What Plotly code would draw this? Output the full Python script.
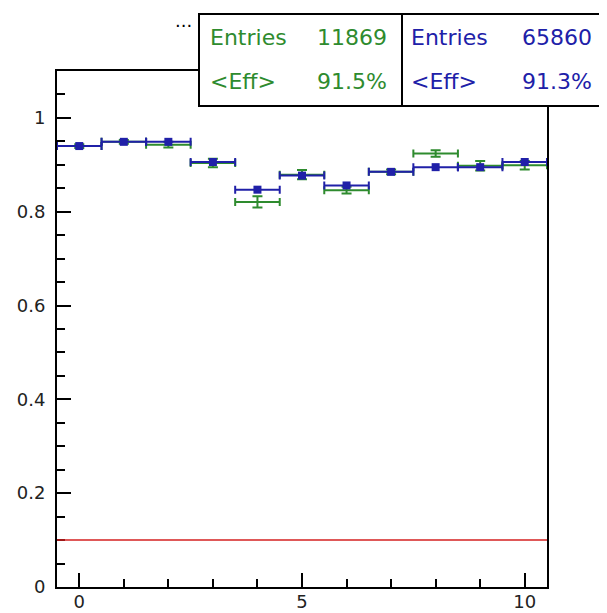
import plotly.graph_objects as go

# efficiency per bin, two samples
bins = [0, 1, 2, 3, 4, 5, 6, 7, 8, 9, 10]
bin_half_width = [0.5, 0.5, 0.5, 0.5, 0.5, 0.5, 0.5, 0.5, 0.5, 0.5, 0.5]

eff_green = [0.940, 0.949, 0.943, 0.904, 0.821, 0.879, 0.846, 0.885, 0.924, 0.898, 0.899]
err_green = [0.004, 0.004, 0.006, 0.009, 0.012, 0.010, 0.007, 0.005, 0.007, 0.010, 0.009]

eff_blue = [0.940, 0.949, 0.949, 0.906, 0.847, 0.877, 0.856, 0.885, 0.895, 0.895, 0.906]
err_blue = [0.003, 0.003, 0.003, 0.003, 0.003, 0.003, 0.003, 0.003, 0.003, 0.003, 0.003]

threshold = 0.1

# stats box contents
green_stats = [("Entries", "11869"), ("<Eff>", "91.5%")]
blue_stats = [("Entries", "65860"), ("<Eff>", "91.3%")]

GREEN = "#2e8b2e"
BLUE = "#2020a8"
FONT = "DejaVu Sans, sans-serif"

fig = go.Figure()

# green sample, drawn first so the blue markers sit on top
fig.add_trace(go.Scatter(
    x=bins, y=eff_green, mode="markers",
    marker=dict(symbol="square", size=1, color=GREEN),
    error_x=dict(type="data", array=bin_half_width, color=GREEN, thickness=2, width=4),
    error_y=dict(type="data", array=err_green, color=GREEN, thickness=2, width=5),
    showlegend=False))

fig.add_trace(go.Scatter(
    x=bins, y=eff_blue, mode="markers",
    marker=dict(symbol="square", size=8, color=BLUE),
    error_x=dict(type="data", array=bin_half_width, color=BLUE, thickness=2, width=4),
    error_y=dict(type="data", array=err_blue, color=BLUE, thickness=2, width=3),
    showlegend=False))

fig.add_hline(y=threshold, line=dict(color="#d42020", width=1.5))

# stats boxes, positions measured in page pixels, turned into paper coords
w_px, top_px, left_px, bot_px = 490, 71, 57, 587
def px(x):
    return (x - left_px) / w_px
def py(y):
    return (bot_px - y) / (bot_px - top_px)

boxes = [(199, 402, GREEN, green_stats, 11, 15), (402, 605, BLUE, blue_stats, 9, 13)]
for x0, x1, col, stats, padl, padr in boxes:
    fig.add_shape(type="rect", xref="paper", yref="paper",
                  x0=px(x0), x1=px(x1), y0=py(106), y1=py(14),
                  line=dict(color="black", width=2), fillcolor="white", layer="above")
    for i, (lab, val) in enumerate(stats):
        yc = py(37 + i * 44)
        fig.add_annotation(x=px(x0 + padl), y=yc, xref="paper", yref="paper",
                           text=lab.replace("<", "&lt;").replace(">", "&gt;"),
                           showarrow=False, xanchor="left", yanchor="middle",
                           xshift=-2, font=dict(family=FONT, size=22, color=col))
        fig.add_annotation(x=px(x1 - padr), y=yc, xref="paper", yref="paper", text=val,
                           showarrow=False, xanchor="right", yanchor="middle",
                           xshift=2, font=dict(family=FONT, size=22, color=col))

fig.add_annotation(x=px(183), y=py(25), xref="paper", yref="paper", text="···",
                   showarrow=False, xanchor="center", yanchor="middle",
                   font=dict(family=FONT, size=18, color="black"))

axis_common = dict(ticks="inside", ticklen=14, tickwidth=2, tickcolor="black",
                   showline=True, linecolor="black", linewidth=2, mirror=True,
                   showgrid=False, zeroline=False, automargin=False,
                   tickfont=dict(family=FONT, size=18, color="#222"))

fig.update_layout(
    width=599, height=605,
    margin=dict(l=49, r=60, t=63, b=26),
    plot_bgcolor="white", paper_bgcolor="white",
    font=dict(family=FONT, size=18, color="#222"),
    xaxis=dict(range=[-0.5, 10.5], tick0=0, dtick=5, ticklabelstandoff=-3,
               minor=dict(dtick=1, ticks="inside", ticklen=8, tickwidth=2, tickcolor="black"),
               **axis_common),
    yaxis=dict(range=[0, 1.1], tick0=0, dtick=0.2, tickformat="~g", ticklabelstandoff=6,
               minor=dict(dtick=0.05, ticks="inside", ticklen=8, tickwidth=2, tickcolor="black"),
               **axis_common),
)

fig.write_html("out.html")
